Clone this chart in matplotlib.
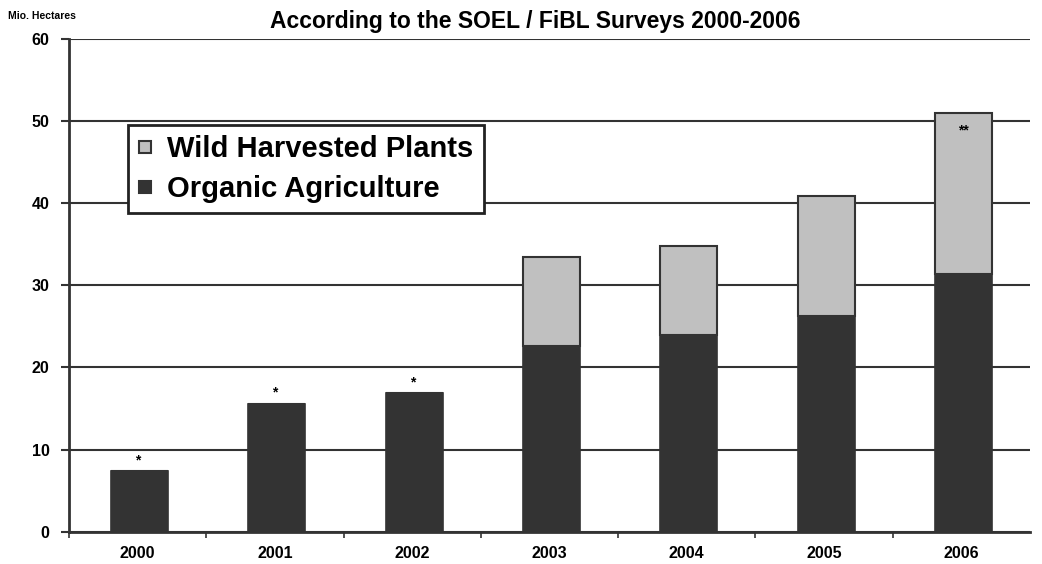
import matplotlib.pyplot as plt
from matplotlib.lines import Line2D
import numpy as np

plt.rcParams['font.family'] = ['Liberation Sans', 'DejaVu Sans']
plt.rcParams['font.weight'] = 'bold'

# data (million hectares)
years = ["2000", "2001", "2002", "2003", "2004", "2005", "2006"]
organic = [7.4, 15.6, 16.9, 22.6, 24.0, 26.3, 31.4]
wild = [0.0, 0.0, 0.0, 10.8, 10.8, 14.6, 19.6]
notes = ["*", "*", "*", "", "", "", "**"]

dark = "#333333"
light = "#c0c0c0"

fig = plt.figure(figsize=(10.42, 5.64), dpi=100)
ax = fig.add_axes([0.0662, 0.0573, 0.9223, 0.8736])

x = np.arange(len(years))
ax.bar(x + 0.015, organic, width=0.415, color=dark, edgecolor=dark, linewidth=1.2, zorder=3)
ax.bar(x + 0.015, wild, width=0.415, bottom=organic, color=light, edgecolor=dark, linewidth=1.5, zorder=3)

# footnote marks
for i, n in enumerate(notes):
    if n == "*":
        ax.text(x[i], organic[i] + wild[i] + 1.3, n, ha="center", va="center", fontsize=10, zorder=4)
    elif n == "**":
        ax.text(x[i] + 0.015, organic[i] + wild[i] - 2.2, n, ha="center", va="center", fontsize=10, zorder=4)

ax.set_xlim(-0.5, len(years) - 0.5)
ax.set_ylim(0, 60)
ax.set_yticks(range(0, 61, 10))
ax.set_xticks(x)
ax.set_xticklabels(years)
ax.set_xticks(np.arange(-0.5, len(years) - 1, 1), minor=True)
ax.tick_params(axis="x", which="major", length=0, pad=10, labelsize=11.5)
ax.tick_params(axis="x", which="minor", length=4, width=1.2, color=dark, direction="out")
ax.tick_params(axis="y", length=6, width=1.5, color=dark, direction="out", pad=8, labelsize=11.5)

ax.grid(axis="y", color=dark, linewidth=1.5, zorder=0)
ax.set_axisbelow(True)
for s in ["top", "right"]:
    ax.spines[s].set_visible(False)
for s in ["left", "bottom"]:
    ax.spines[s].set_color(dark)
    ax.spines[s].set_linewidth(2)

# legend
handles = [
    Line2D([], [], linestyle="none", marker="s", markersize=9, markerfacecolor=light, markeredgecolor=dark, markeredgewidth=1.5),
    Line2D([], [], linestyle="none", marker="s", markersize=9, markerfacecolor=dark, markeredgecolor=dark, markeredgewidth=1.5),
]
leg = ax.legend(handles, ["Wild Harvested Plants", "Organic Agriculture"], loc="upper left",
                bbox_to_anchor=(0.0614, 0.825), borderaxespad=0, fontsize=21, frameon=True,
                fancybox=False, edgecolor="#222222", handlelength=0.5, handletextpad=0.5,
                borderpad=0.35, labelspacing=0.4)
leg.get_frame().set_linewidth(2)
leg.get_frame().set_alpha(1)
leg.set_zorder(5)

fig.text(0.514, 0.962, "According to the SOEL / FiBL Surveys 2000-2006", ha="center", va="center", fontsize=16.5)
fig.text(0.008, 0.972, "Mio. Hectares", ha="left", va="center", fontsize=7.5)

plt.savefig("out.png", dpi=100)
